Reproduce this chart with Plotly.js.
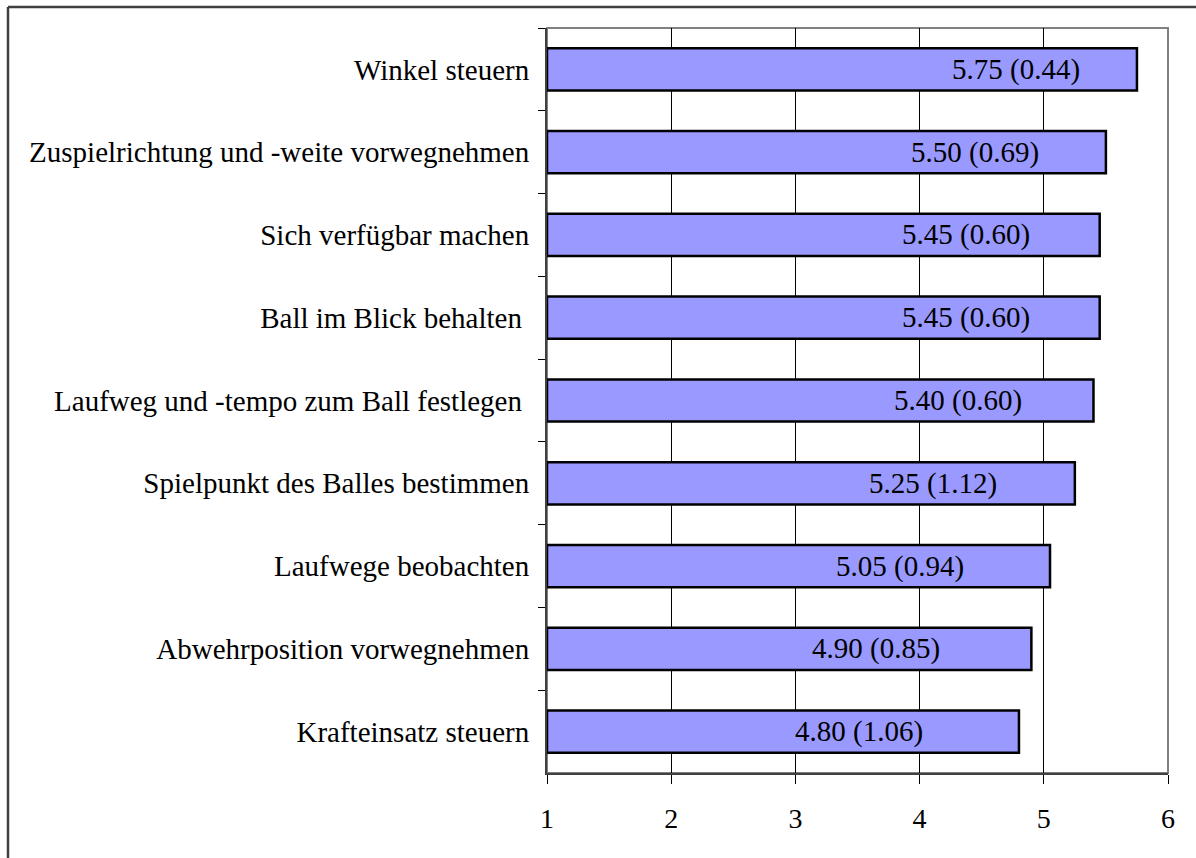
<!DOCTYPE html>
<html>
<head>
<meta charset="utf-8">
<script src="https://cdn.plot.ly/plotly-3.0.1.min.js"></script>
<style>
  html, body { margin: 0; padding: 0; background: #ffffff; }
  #chart { width: 1196px; height: 858px; }
</style>
</head>
<body>
<div id="chart"></div>
<script>
// Categories, top to bottom as in the reference
const categories = [
  "Winkel steuern",
  "Zuspielrichtung und -weite vorwegnehmen",
  "Sich verfügbar machen",
  "Ball im Blick behalten\u00A0",
  "Laufweg und -tempo zum Ball festlegen\u00A0",
  "Spielpunkt des Balles bestimmen",
  "Laufwege beobachten",
  "Abwehrposition vorwegnehmen",
  "Krafteinsatz steuern"
];
// Mean ratings
const means = [5.75, 5.50, 5.45, 5.45, 5.40, 5.25, 5.05, 4.90, 4.80];
// Standard deviations (shown in parentheses)
const sds = [0.44, 0.69, 0.60, 0.60, 0.60, 1.12, 0.94, 0.85, 1.06];
// X axis ticks
const xTicks = [1, 2, 3, 4, 5, 6];

const FONT = "Liberation Serif";
const W = 1196, H = 858;
const M = { l: 547, r: 28, t: 28, b: 85 };
const plotW = W - M.l - M.r;
const plotH = H - M.t - M.b;
const px2paperX = p => (p - M.l) / plotW;
const px2paperY = p => (H - M.b - p) / plotH;

const labels = means.map((m, i) => m.toFixed(2) + " (" + sds[i].toFixed(2) + ")");

const trace = {
  type: "bar",
  orientation: "h",
  y: categories,
  base: 1,
  x: means.map(m => m - 1),
  marker: { color: "#9999FF", line: { color: "#000000", width: 2.5 } },
  hoverinfo: "skip",
  showlegend: false
};

// value labels inside bars (placed like the original: a bit left of the bar end)
const annotations = means.map((m, i) => ({
  x: m, y: categories[i], xref: "x", yref: "y",
  text: labels[i], showarrow: false,
  xanchor: "right", yanchor: "middle",
  xshift: -(75 - 40.5 * (m - 5.2625)),
  font: { family: FONT, size: 29, color: "#000000" }
}));

const shapes = [
  // gray plot-area frame (top & right)
  { type: "rect", xref: "paper", yref: "paper", x0: 0, x1: 1, y0: 0, y1: 1,
    line: { color: "#808080", width: 2 }, layer: "below" },
  // outer figure border (top & left visible)
  { type: "line", xref: "paper", yref: "paper",
    x0: px2paperX(8), x1: px2paperX(1210), y0: px2paperY(7), y1: px2paperY(7),
    line: { color: "#404040", width: 2.5 } },
  { type: "line", xref: "paper", yref: "paper",
    x0: px2paperX(8), x1: px2paperX(8), y0: px2paperY(7), y1: px2paperY(870),
    line: { color: "#404040", width: 2.5 } }
];

const layout = {
  width: W, height: H,
  margin: M,
  paper_bgcolor: "#ffffff",
  plot_bgcolor: "#ffffff",
  bargap: 0.49,
  font: { family: FONT, size: 29, color: "#000000" },
  xaxis: {
    range: [1, 6],
    tickvals: xTicks,
    ticktext: xTicks.map(String),
    showgrid: true, gridcolor: "#000000", gridwidth: 1,
    zeroline: false,
    showline: true, linecolor: "#404040", linewidth: 2,
    ticks: "outside", ticklen: 9, tickcolor: "#000000", tickwidth: 1,
    ticklabelstandoff: 10,
    tickfont: { family: FONT, size: 28, color: "#000000" },
    fixedrange: true
  },
  yaxis: {
    type: "category",
    categoryorder: "array",
    categoryarray: categories,
    autorange: "reversed",
    showgrid: false,
    zeroline: false,
    showline: true, linecolor: "#404040", linewidth: 2,
    ticks: "outside", ticklen: 7, tickcolor: "#000000", tickwidth: 1,
    tickson: "boundaries",
    ticklabelstandoff: 10,
    tickfont: { family: FONT, size: 29, color: "#000000" },
    fixedrange: true
  },
  shapes: shapes,
  annotations: annotations
};

Plotly.newPlot("chart", [trace], layout, { displayModeBar: false, staticPlot: true });
</script>
</body>
</html>
